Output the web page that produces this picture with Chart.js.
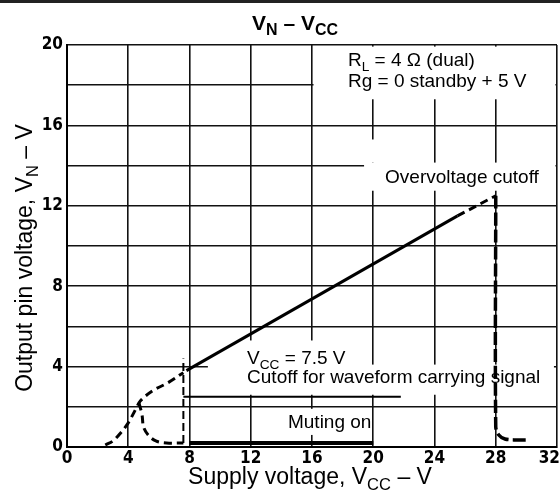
<!DOCTYPE html>
<html>
<head>
<meta charset="utf-8">
<script src="https://cdn.jsdelivr.net/npm/chart.js@4/dist/chart.umd.min.js"></script>
<style>
  html, body { margin: 0; padding: 0; background: #fff; }
</style>
</head>
<body>
<canvas id="myChart" width="560" height="491"></canvas>
<script>
// axis ranges / ticks
const xRange = [0, 32];
const yRange = [0, 20];
const xStep = 4;
const yStep = 2;
const yLabelStep = 4;

// output pin voltage, rising part (dashed) below VCC = 7.5 V
const riseX = [2.5, 3.0, 3.5, 4.0, 4.5, 4.8, 5.6, 6.6, 7.6];
const riseY = [0.1, 0.3, 0.7, 1.2, 1.9, 2.3, 2.8, 3.2, 3.7];

// linear part (solid)
const lineX = [7.8, 25.5];
const lineY = [3.8, 11.5];

// end of linear part (dashed) up to overvoltage
const topX = [25.5, 28.0];
const topY = [11.5, 12.5];

// overvoltage cutoff drop (thick dashed)
const overX = [28.0, 28.0, 28.2, 28.6, 29.3, 30.0];
const overY = [12.5, 1.0, 0.6, 0.4, 0.35, 0.35];

// drop of the curve for waveform carrying signal
const dropX = [4.7, 4.9, 5.0, 5.3, 5.8, 6.5, 7.6];
const dropY = [2.2, 1.6, 1.0, 0.6, 0.3, 0.2, 0.2];

// VCC = 7.5 V marker
const cutX = [7.6, 7.6];
const cutY = [0.2, 4.4];

// muting on bracket
const muteX = [7.6, 21.8];
const muteY = [2.5, 2.5];

// muted output (thick solid near 0)
const mutedX = [8, 20];
const mutedY = [0.2, 0.2];

const pts = (xs, ys) => xs.map((x, i) => ({ x: x, y: ys[i] }));

const FONT = "'Liberation Sans', Arial, Helvetica, sans-serif";
const TICKFONT = "'Liberation Sans Narrow', 'DejaVu Sans Condensed', 'Liberation Sans', sans-serif";

/* draws text with subscripts: parts = [[text, isSub], ...] */
function richText(ctx, parts, x, y, size, weight, align, subScale) {
  const k = subScale || 0.72;
  const f = (s) => weight + " " + s + "px " + FONT;
  let w = 0;
  parts.forEach(([t, sub]) => {
    ctx.font = f(sub ? size * k : size);
    w += ctx.measureText(t).width;
  });
  let cx = align === "center" ? x - w / 2 : x;
  ctx.textAlign = "left";
  ctx.textBaseline = "alphabetic";
  parts.forEach(([t, sub]) => {
    ctx.font = f(sub ? size * k : size);
    ctx.fillText(t, cx, sub ? y + size * 0.26 : y);
    cx += ctx.measureText(t).width;
  });
}

/* white patches where the printed grid is interrupted by labels */
const gridGaps = {
  id: "gridGaps",
  beforeDatasetsDraw(chart) {
    const { ctx, scales: { x, y } } = chart;
    const boxes = [
      [16.1, 31.9, 17.3, 19.92],
      [19.4, 31.9, 12.75, 14.15],
      [19.6, 20.4, 14.15, 15.3],
      [9.2, 19.0, 3.9, 5.3],
      [11.6, 31.8, 2.6, 4.1],
      [14.3, 19.85, 0.6, 1.9],
    ];
    ctx.save();
    ctx.fillStyle = "#fff";
    boxes.forEach(([x0, x1, y0, y1]) => {
      const px0 = x.getPixelForValue(x0), px1 = x.getPixelForValue(x1);
      const py0 = y.getPixelForValue(y1), py1 = y.getPixelForValue(y0);
      ctx.fillRect(px0, py0, px1 - px0, py1 - py0);
    });
    ctx.restore();
  },
};

/* titles and notes */
const notes = {
  id: "notes",
  afterDraw(chart) {
    const { ctx, scales: { x, y } } = chart;
    ctx.save();

    // frame line at top of the page
    ctx.fillStyle = "#222";
    ctx.fillRect(0, 0, 560, 3);
    ctx.fillStyle = "#000";

    // title
    richText(ctx, [["V", 0], ["N", 1], [" \u2013 V", 0], ["CC", 1]], 295, 30, 21, "bold", "center", 0.76);

    // axis titles
    richText(ctx, [["Supply voltage, V", 0], ["CC", 1], [" \u2013 V", 0]], 310, 484, 23, "normal", "center");
    ctx.save();
    ctx.translate(32, 258);
    ctx.rotate(-Math.PI / 2);
    richText(ctx, [["Output pin voltage, V", 0], ["N", 1], [" \u2013 V", 0]], 0, 0, 23, "normal", "center");
    ctx.restore();

    const px = (v) => x.getPixelForValue(v);
    const py = (v) => y.getPixelForValue(v);
    richText(ctx, [["R", 0], ["L", 1], [" = 4 \u03A9 (dual)", 0]], px(18.35), py(18.95), 19, "normal");
    richText(ctx, [["Rg = 0 standby + 5 V", 0]], px(18.35), py(17.9), 19, "normal");
    richText(ctx, [["Overvoltage cutoff", 0]], px(20.77), py(13.13), 19, "normal");
    richText(ctx, [["V", 0], ["CC", 1], [" = 7.5 V", 0]], px(11.76), py(4.13), 19, "normal");
    richText(ctx, [["Cutoff for waveform carrying signal", 0]], px(11.76), py(3.18), 19, "normal");
    richText(ctx, [["Muting on", 0]], px(14.43), py(0.95), 19, "normal");
    ctx.restore();
  },
};

const ds = (xs, ys, opts) => Object.assign({
  data: pts(xs, ys),
  borderColor: "#000",
  backgroundColor: "#000",
  borderWidth: 3,
  pointRadius: 0,
  tension: 0,
  fill: false,
}, opts);

const canvas = document.getElementById("myChart");
new Chart(canvas.getContext("2d"), {
  type: "line",
  data: {
    datasets: [
      ds(riseX, riseY, { borderDash: [8, 5], tension: 0.35 }),
      ds(lineX, lineY, {}),
      ds(topX, topY, { borderDash: [8, 5] }),
      ds(overX, overY, { borderDash: [13, 4], borderWidth: 3.5, tension: 0.3 }),
      ds(dropX, dropY, { borderDash: [8, 5], tension: 0.35 }),
      ds(cutX, cutY, { borderDash: [8, 4], borderWidth: 2 }),
      ds(muteX, muteY, { borderWidth: 1.8 }),
      ds(mutedX, mutedY, { borderWidth: 4 }),
    ],
  },
  options: {
    responsive: false,
    animation: false,
    events: [],
    layout: { padding: { top: 45, right: 3, left: 0, bottom: 0 }, autoPadding: false },
    plugins: { legend: { display: false }, tooltip: { enabled: false } },
    scales: {
      x: {
        type: "linear",
        min: xRange[0],
        max: xRange[1],
        afterFit: (s) => { s.height = 44; s.paddingLeft = 0; s.paddingRight = 0; },
        afterBuildTicks: (s) => {
          s.ticks = [];
          for (let v = xRange[0]; v <= xRange[1]; v += xStep) s.ticks.push({ value: v });
        },
        ticks: {
          color: "#000",
          padding: 1,
          maxRotation: 0,
          autoSkip: false,
          // last label pushed left so it stays inside the page
          callback: (v) => (v === xRange[1] ? v + "\u2003" : v),
          font: { family: TICKFONT, size: 17, weight: "bold" },
        },
        grid: { color: "#111", lineWidth: 1.6, drawTicks: false },
        border: { color: "#000", width: 2 },
      },
      y: {
        min: yRange[0],
        max: yRange[1],
        afterFit: (s) => { s.width = 67; s.paddingTop = 0; s.paddingBottom = 0; },
        afterBuildTicks: (s) => {
          s.ticks = [];
          for (let v = yRange[0]; v <= yRange[1]; v += yStep) s.ticks.push({ value: v });
        },
        ticks: {
          color: "#000",
          padding: 4,
          autoSkip: false,
          callback: (v) => (v % yLabelStep === 0 ? v : ""),
          font: { family: TICKFONT, size: 17, weight: "bold" },
        },
        grid: { color: "#111", lineWidth: 1.6, drawTicks: false },
        border: { color: "#000", width: 2 },
      },
    },
  },
  plugins: [gridGaps, notes],
});
</script>
</body>
</html>
